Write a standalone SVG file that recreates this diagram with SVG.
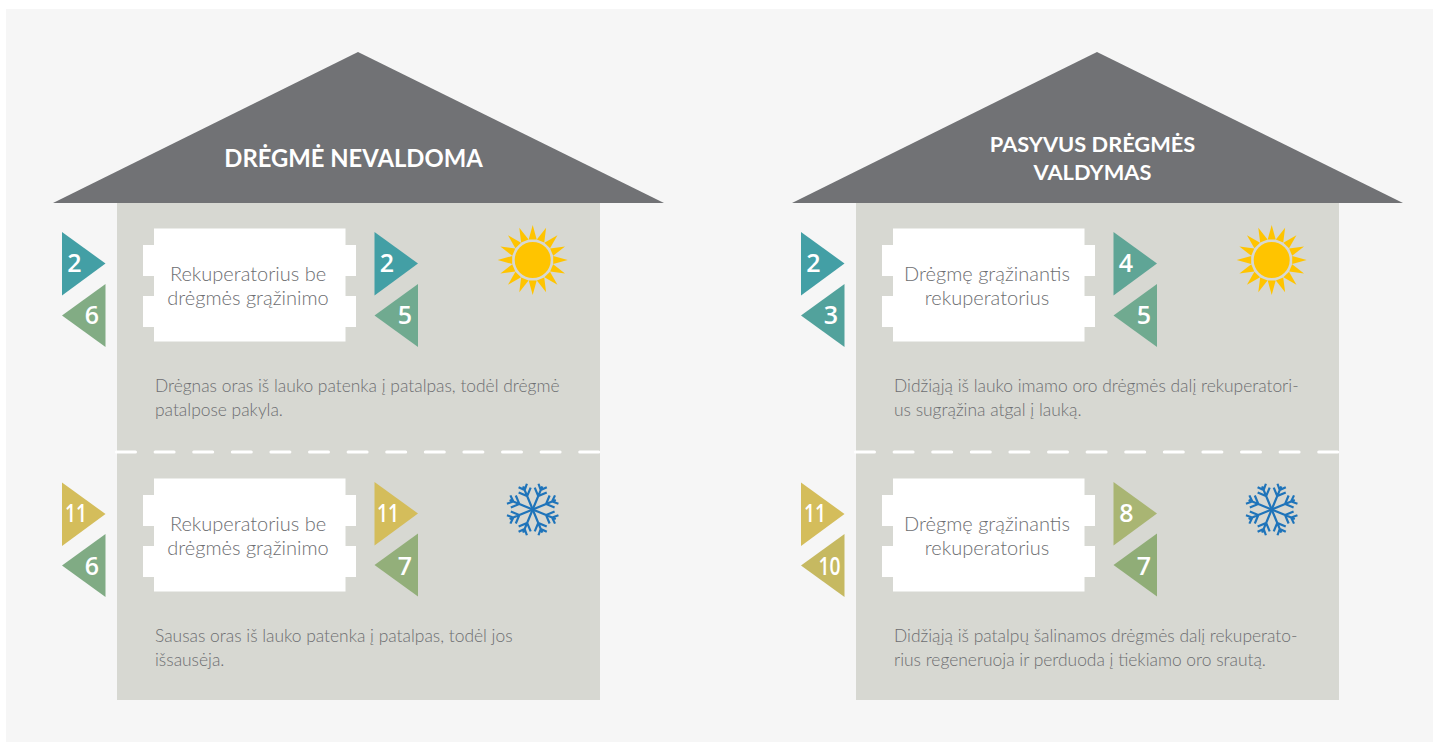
<svg xmlns="http://www.w3.org/2000/svg" width="1433" height="742" viewBox="0 0 1433 742">
<style>
text{font-family:"Lato","Open Sans","Liberation Sans",sans-serif}
.roof{fill:#717275}
.body{fill:#d7d8d2}
.title{font-size:23.8px;font-weight:700;fill:#fff;text-anchor:middle}
.title2{font-size:21.8px}
.box{fill:#fff}
.lbl{font-size:20px;font-weight:300;fill:#6d6e71;text-anchor:middle}
.desc{font-size:17.4px;font-weight:300;fill:#6d6e71}
.num{font-family:"Open Sans","Lato",sans-serif;font-size:25px;font-weight:600;fill:#fff;text-anchor:middle}
.dash{stroke:#fff;stroke-width:3;stroke-dasharray:19 19.6;stroke-linecap:round;fill:none}
.flake{stroke:#1f74ba;stroke-width:2.2;fill:none}
.sun{fill:#ffc400}
</style>
<defs>
<path id="bx" d="M154 228.5H345.5V245H356V276H345.5V296H356V327H345.5V341.5H154V327H143V296H154V276H143V245H154Z"/>
<polygon id="ray" points="-4,-20.5 0,-35 4,-20.5"/>
<g id="sunshape" class="sun">
<circle r="18"/>
<use href="#ray"/><use href="#ray" transform="rotate(22.5)"/><use href="#ray" transform="rotate(45)"/><use href="#ray" transform="rotate(67.5)"/><use href="#ray" transform="rotate(90)"/><use href="#ray" transform="rotate(112.5)"/><use href="#ray" transform="rotate(135)"/><use href="#ray" transform="rotate(157.5)"/><use href="#ray" transform="rotate(180)"/><use href="#ray" transform="rotate(202.5)"/><use href="#ray" transform="rotate(225)"/><use href="#ray" transform="rotate(247.5)"/><use href="#ray" transform="rotate(270)"/><use href="#ray" transform="rotate(292.5)"/><use href="#ray" transform="rotate(315)"/><use href="#ray" transform="rotate(337.5)"/>
</g>
<path id="arm" d="M0 0V-25M-6.5 -21L0 -14.5L6.5 -21M-4.5 -26L0 -21L4.5 -26"/>
<g id="flakeshape" class="flake">
<use href="#arm" transform="rotate(22.5)"/><use href="#arm" transform="rotate(67.5)"/><use href="#arm" transform="rotate(112.5)"/><use href="#arm" transform="rotate(157.5)"/><use href="#arm" transform="rotate(202.5)"/><use href="#arm" transform="rotate(247.5)"/><use href="#arm" transform="rotate(292.5)"/><use href="#arm" transform="rotate(337.5)"/>
</g>
<polygon id="tr" points="0,0 43.5,31.5 0,63.5"/>
<polygon id="tl" points="43.5,0 0,31.5 43.5,63"/>
</defs>
<rect width="1433" height="742" fill="#fff"/>
<rect x="6" y="9" width="1427" height="733" fill="#f6f6f6"/>

<g id="house-left">
<rect class="body" x="117" y="203" width="483" height="497"/>
<polygon class="roof" points="358,52 664,203 53,203"/>
<text class="title" x="353.5" y="167">DRĖGMĖ NEVALDOMA</text>
<line class="dash" x1="116.5" y1="452" x2="600" y2="452"/>
</g>
<g id="house-right">
<rect class="body" x="856" y="203" width="483" height="497"/>
<polygon class="roof" points="1097,52 1403,203 792,203"/>
<text class="title title2" x="1092.5" y="151.500">PASYVUS DRĖGMĖS</text>
<text class="title title2" x="1092.5" y="179.500">VALDYMAS</text>
<line class="dash" x1="855.5" y1="452" x2="1339" y2="452"/>
</g>

<g id="unit-l1">
<use href="#bx" class="box"/>
<text class="lbl" x="248" y="281">Rekuperatorius be</text>
<text class="lbl" x="248" y="305">drėgmės grąžinimo</text>
<use href="#tr" x="62" y="232" fill="#439fa5"/><text class="num" x="74.500" y="272">2</text>
<use href="#tl" x="62" y="284" fill="#82ac84"/><text class="num" x="92" y="324">6</text>
<use href="#tr" x="374.5" y="232" fill="#439fa5"/><text class="num" x="387" y="272">2</text>
<use href="#tl" x="374.5" y="284" fill="#70aa90"/><text class="num" x="405" y="324">5</text>
<use href="#sunshape" x="532.7" y="260"/>
<text class="desc" x="155" y="392">Drėgnas oras iš lauko patenka į patalpas, todėl drėgmė</text>
<text class="desc" x="155" y="416">patalpose pakyla.</text>
</g>
<g id="unit-l2">
<use href="#bx" class="box" y="250"/>
<text class="lbl" x="248" y="531">Rekuperatorius be</text>
<text class="lbl" x="248" y="555">drėgmės grąžinimo</text>
<use href="#tr" x="62" y="482.5" fill="#d4bd5b"/><text class="num" x="76" y="522" textLength="22" lengthAdjust="spacingAndGlyphs">11</text>
<use href="#tl" x="62" y="534" fill="#80ab84"/><text class="num" x="92" y="575">6</text>
<use href="#tr" x="374.500" y="482" fill="#d4bd5b"/><text class="num" x="388" y="522" textLength="22" lengthAdjust="spacingAndGlyphs">11</text>
<use href="#tl" x="374.5" y="533.500" fill="#93af7a"/><text class="num" x="405" y="575">7</text>
<use href="#flakeshape" x="532.7" y="509.5"/>
<text class="desc" x="155" y="642">Sausas oras iš lauko patenka į patalpas, todėl jos</text>
<text class="desc" x="155" y="666">išsausėja.</text>
</g>
<g id="unit-r1">
<use href="#bx" class="box" x="739"/>
<text class="lbl" x="987" y="281">Drėgmę grąžinantis</text>
<text class="lbl" x="987" y="305">rekuperatorius</text>
<use href="#tr" x="801" y="232" fill="#439fa5"/><text class="num" x="813.500" y="272">2</text>
<use href="#tl" x="801" y="284" fill="#52a29c"/><text class="num" x="831" y="324">3</text>
<use href="#tr" x="1113.5" y="232" fill="#5fa596"/><text class="num" x="1126" y="272">4</text>
<use href="#tl" x="1113.5" y="284" fill="#70aa90"/><text class="num" x="1144" y="324">5</text>
<use href="#sunshape" x="1271.7" y="260"/>
<text class="desc" x="894" y="392">Didžiąją iš lauko imamo oro drėgmės dalį rekuperatori-</text>
<text class="desc" x="894" y="416">us sugrąžina atgal į lauką.</text>
</g>
<g id="unit-r2">
<use href="#bx" class="box" x="739" y="250"/>
<text class="lbl" x="987" y="531">Drėgmę grąžinantis</text>
<text class="lbl" x="987" y="555">rekuperatorius</text>
<use href="#tr" x="801" y="482.5" fill="#d4bd5b"/><text class="num" x="815" y="522" textLength="22" lengthAdjust="spacingAndGlyphs">11</text>
<use href="#tl" x="801" y="534" fill="#c6b961"/><text class="num" x="829.500" y="575" textLength="22" lengthAdjust="spacingAndGlyphs">10</text>
<use href="#tr" x="1113.5" y="482" fill="#a9b573"/><text class="num" x="1126.500" y="522">8</text>
<use href="#tl" x="1113.5" y="533.500" fill="#90ad77"/><text class="num" x="1144" y="575">7</text>
<use href="#flakeshape" x="1271.7" y="509.5"/>
<text class="desc" x="894" y="642">Didžiąją iš patalpų šalinamos drėgmės dalį rekuperato-</text>
<text class="desc" x="894" y="666">rius regeneruoja ir perduoda į tiekiamo oro srautą.</text>
</g>
</svg>
